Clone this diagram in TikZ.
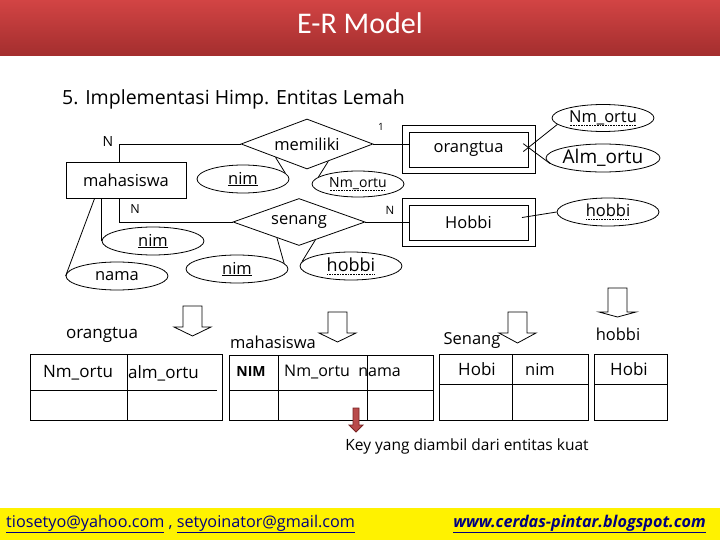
\documentclass[tikz,border=0pt]{standalone}
\usepackage{fontspec}
\setmainfont{Open Sans}
\newfontfamily\titlefont{Carlito}
\usetikzlibrary{shapes.geometric}
\definecolor{titletop}{RGB}{210,68,68}
\definecolor{titlebot}{RGB}{163,46,46}
\definecolor{navyt}{RGB}{0,0,128}
\definecolor{keyred}{RGB}{185,75,75}
\definecolor{keyredb}{RGB}{120,35,35}
\newcommand\fsz[1]{\fontsize{#1}{#1}\selectfont}
\newcommand\dotul[1]{\setbox0\hbox{#1}\leavevmode\rlap{\raisebox{-3pt}{\hbox to \wd0{\leaders\hbox to 1.6pt{\hss\rule{0.7pt}{0.7pt}\hss}\hfill}}}\box0}
\newcommand\blockarrow[5][black]{%
  \draw[barrow,draw=#1] (#2-9.5,#3) -- (#2+9.5,#3) -- (#2+9.5,#4) -- (#2+18.5,#4) -- (#2,#5) -- (#2-18.5,#4) -- (#2-9.5,#4) -- cycle;}
\begin{document}
\begin{tikzpicture}[x=1pt,y=-1pt,
  ent/.style={draw, line width=0.8pt, minimum width=120pt, minimum height=36pt, inner sep=0pt, font=\fsz{16.5}},
  went/.style={draw, line width=0.8pt, minimum width=119pt, minimum height=35pt, inner sep=0pt, font=\fsz{16.5}},
  rel/.style={draw, diamond, aspect=2.6, inner sep=0pt, line width=0.8pt, font=\fsz{16.5}},
  attr/.style={draw, ellipse, inner sep=0pt, line width=0.8pt, minimum width=102pt, minimum height=28pt, font=\fsz{16.5}},
  lbl/.style={inner sep=0pt, font=\fsz{16.5}},
  conn/.style={line width=0.8pt},
  tbl/.style={line width=0.8pt},
  barrow/.style={fill=white, line width=0.8pt, line join=miter}
]
\useasboundingbox (0,0) rectangle (720,540);
% title bar
\shade[top color=titletop, bottom color=titlebot] (0,0) rectangle (720,56);
\node[text=white, font=\titlefont\fsz{30}, inner sep=0pt] (title) at (360,23) {E-R Model};
\node[font=\fsz{19.5}, anchor=west, inner sep=0pt] (sub) at (62,99) {5. Implementasi Himp. Entitas Lemah};

% ER diagram
\node[ent] (mhs) at (126,180) {mahasiswa};
\node[rel, minimum width=132pt, minimum height=50pt] (mem) at (307,144) {memiliki};
\node[rel, minimum width=132pt, minimum height=47pt] (sen) at (299,222) {senang};
\node[went] (ot) at (468.5,149.5) {orangtua};
\node[went] (hb) at (468.5,222.5) {Hobbi};
\draw[line width=0.8pt] ([shift={(-6.5pt,6pt)}]ot.north west) rectangle ([shift={(6.5pt,-6pt)}]ot.south east);
\draw[line width=0.8pt] ([shift={(-6.5pt,6pt)}]hb.north west) rectangle ([shift={(6.5pt,-6pt)}]hb.south east);

\node[attr, minimum width=92pt] (nim1) at (243,179) {\underline{nim}};
\node[attr, minimum width=92pt, minimum height=26pt, font=\fsz{14}] (nmo1) at (358,184) {\dotul{Nm\_ortu}};
\node[attr] (nim2) at (153,241) {\underline{nim}};
\node[attr] (nama) at (117,276) {nama};
\node[attr] (nim3) at (237,269) {\underline{nim}};
\node[attr, font=\fsz{18}] (hob1) at (351,266) {\dotul{hobbi}};
\node[attr, minimum height=27pt] (nmo2) at (603,118) {\dotul{Nm\_ortu}};
\node[attr, font=\fsz{19}] (alm) at (603,158) {Alm\_ortu};
\node[attr] (hb2) at (608,212) {\dotul{hobbi}};

\node[lbl, font=\fsz{14}] (lN1) at (108,142) {N};
\node[lbl, font=\fsz{10}] (l1) at (381,127) {1};
\node[lbl, font=\fsz{12.5}] (lN2) at (135,209) {N};
\node[lbl, font=\fsz{11.5}] (lN3) at (390,210) {N};

\draw[conn] ([xshift=54pt]mhs.north west) |- (mem.west);
\draw[conn] ([xshift=54pt]mhs.south west) |- (sen.west);
\draw[conn] ([xshift=36pt]mhs.south west) -- (nim2.west);
\draw[conn] ([xshift=29pt]mhs.south west) -- (nama.west);
\draw[conn] (mem.east) -- (mem.east -| ot.west);
\draw[conn] (sen.east) -- (sen.east -| hb.west);
\draw[conn] (nim1.8) -- (mem.203);
\draw[conn] (nmo1.170) -- (mem.321);
\draw[conn] (nim3.7) -- (sen.216);
\draw[conn] (hob1.175) -- (sen.312);
\draw[conn, shorten <=-6.5pt] ([yshift=2pt]ot.east) -- (nmo2.188);
\draw[conn, shorten <=-6.5pt] ([yshift=2pt]ot.east) -- (alm.186);
\draw[conn, shorten <=-6.5pt] ([yshift=6pt]hb.east) -- (hb2.west);

% block arrows
\blockarrow{192.5}{306}{327}{336}
\blockarrow{337.5}{312}{333}{342}
\blockarrow{517.5}{312}{333}{343}
\blockarrow{617.5}{288}{312}{317}

% table labels
\node[lbl, font=\fsz{17}] (tl1) at (102,335) {orangtua};
\node[lbl] (tl2) at (273,342) {mahasiswa};
\node[lbl] (tl3) at (472,341) {Senang};
\node[lbl] (tl4) at (618,334) {hobbi};

% table orangtua
\draw[tbl] (30,354) rectangle (222,420);
\draw[tbl] (127,354) -- (127,420);
\draw[tbl] (30,390) -- (217,390);
\node[lbl, font=\fsz{17}] (t1a) at (78,373) {Nm\_ortu};
\node[lbl, font=\fsz{17}] (t1b) at (163.5,373) {alm\_ortu};

% table mahasiswa
\draw[tbl] (229,355) rectangle (433,420);
\draw[tbl] (278,355) -- (278,420);
\draw[tbl] (367,355) -- (367,420);
\draw[tbl] (229,390) -- (433,390);
\node[lbl, font=\bfseries\fsz{14}] (t2a) at (251,372) {NIM};
\node[lbl, anchor=west, font=\fsz{16}] (t2b) at (284,372) {Nm\_ortu\ \ nama};

% table Senang
\draw[tbl] (439,354) rectangle (588,420);
\draw[tbl] (512,354) -- (512,420);
\draw[tbl] (439,384) -- (588,384);
\node[lbl, font=\fsz{17}] (t3a) at (477,369) {Hobi};
\node[lbl] (t3b) at (540,369) {nim};

% table hobbi
\draw[tbl] (594,354) rectangle (667,420);
\draw[tbl] (594,384) -- (667,384);
\node[lbl, font=\fsz{17}] (t4a) at (629,369) {Hobi};

% key arrow
\draw[fill=keyred, draw=keyredb, line width=0.8pt, line join=miter] (353,408) -- (359,408) -- (359,425) -- (363,425) -- (356,432) -- (349,425) -- (353,425) -- cycle;
\node[lbl, font=\fsz{15.5}] (key) at (467,446) {Key yang diambil dari entitas kuat};

% footer
\fill[yellow] (0,508) rectangle (720,540);
\node[anchor=west, inner sep=0pt, text=navyt, font=\fsz{16.2}] (mail) at (6,524) {\underline{tiosetyo@yahoo.com} , \underline{setyoinator@gmail.com}};
\node[anchor=east, inner sep=0pt, text=navyt, font=\bfseries\itshape\fsz{16.2}] (blog) at (706,524) {\underline{www.cerdas-pintar.blogspot.com}};
\end{tikzpicture}
\end{document}
